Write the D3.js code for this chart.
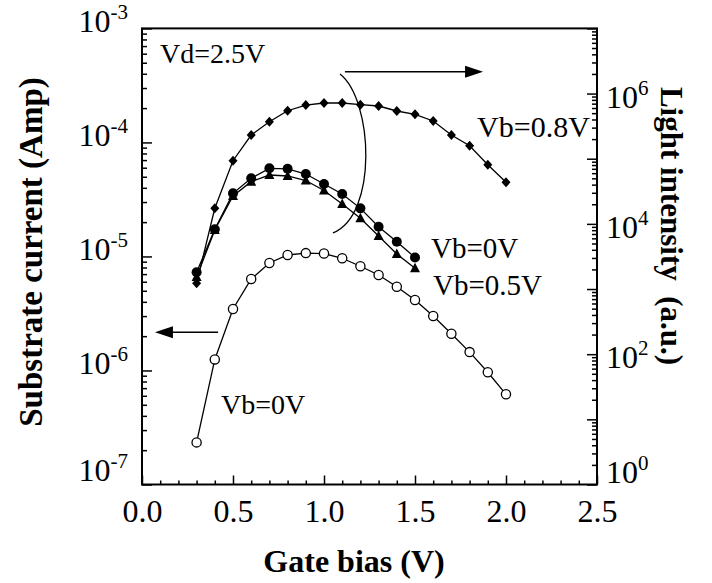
<!DOCTYPE html>
<html>
<head>
<meta charset="utf-8">
<script src="https://cdn.jsdelivr.net/npm/d3@7"></script>
<style>
  body { margin: 0; background: #fff; }
  svg { font-family: "Liberation Serif", "Times New Roman", serif; }
</style>
</head>
<body>
<div id="chart"></div>
<script>
// gate bias points (V)
const gateBiasLong = [0.3, 0.4, 0.5, 0.6, 0.7, 0.8, 0.9, 1.0, 1.1, 1.2, 1.3, 1.4, 1.5, 1.6, 1.7, 1.8, 1.9, 2.0];
const gateBiasShort = [0.3, 0.4, 0.5, 0.6, 0.7, 0.8, 0.9, 1.0, 1.1, 1.2, 1.3, 1.4, 1.5];

// substrate current (Amp), Vb=0V, open circles, left axis
const substrateVb0 = [2.34e-7, 1.25e-6, 3.46e-6, 6.34e-6, 8.77e-6, 1.03e-5, 1.07e-5, 1.06e-5, 9.64e-6,
  8.2e-6, 6.88e-6, 5.43e-6, 4.15e-6, 3.0e-6, 2.1e-6, 1.45e-6, 9.64e-7, 6.18e-7];

// light intensity (a.u.), right axis
const lightVb08 = [1224, 17330, 93100, 231000, 370000, 545000, 667000, 716000, 716000,
  674000, 644000, 540000, 480000, 379000, 231000, 158000, 80900, 43400];
const lightVb0 = [1806, 8260, 29400, 50000, 71200, 70000, 58200, 40900, 28700, 17300, 9040, 5320, 3050];
const lightVb05 = [1530, 8050, 26800, 44400, 56200, 54300, 46300, 32500, 20200, 12200, 6510, 3450, 2080];

const xMajor = [0, 0.5, 1.0, 1.5, 2.0, 2.5];
const leftExponents = [-3, -4, -5, -6, -7];
const rightExponents = [0, 2, 4, 6];

const width = 712, height = 583;
const plotLeft = 142, plotRight = 597, plotTop = 28.4, plotBottom = 484.5;

const svg = d3.select('#chart')
  .append('svg')
  .attr('width', width)
  .attr('height', height);

const x = d3.scaleLinear().domain([0, 2.5]).range([plotLeft, plotRight]);
const yLeft = d3.scaleLog().domain([1e-7, 1e-3]).range([plotBottom, plotTop]);
const yRight = d3.scaleLog().domain([1, 1e7]).range([plotBottom, plotTop]);

const isPow10 = v => Math.abs(Math.log10(v) - Math.round(Math.log10(v))) < 1e-9;

// x axis
const xMinor = d3.range(0, 2.51, 0.1).filter(v => Math.abs(v * 2 - Math.round(v * 2)) > 1e-6);
svg.append('g')
   .attr('transform', 'translate(0,' + plotBottom + ')')
   .call(d3.axisBottom(x).tickValues(xMinor).tickSize(-4).tickSizeOuter(0).tickFormat(''));
svg.append('g')
   .attr('class', 'x-major')
   .attr('transform', 'translate(0,' + plotBottom + ')')
   .call(d3.axisBottom(x).tickValues(xMajor).tickSize(-9).tickSizeOuter(0)
     .tickPadding(15).tickFormat(d3.format('.1f')));
svg.selectAll('.x-major text')
   .attr('font-size', 32)
   .attr('font-family', '"Liberation Serif", serif')
   .attr('fill', '#000');

// left axis
svg.append('g')
   .attr('transform', 'translate(' + plotLeft + ',0)')
   .call(d3.axisRight(yLeft).tickValues(yLeft.ticks().filter(v => !isPow10(v)))
     .tickSize(5).tickSizeOuter(0).tickFormat(''));
svg.append('g')
   .attr('transform', 'translate(' + plotLeft + ',0)')
   .call(d3.axisRight(yLeft).tickValues(leftExponents.map(e => Math.pow(10, e)))
     .tickSize(10).tickSizeOuter(0).tickFormat(''));

// right axis
svg.append('g')
   .attr('transform', 'translate(' + plotRight + ',0)')
   .call(d3.axisLeft(yRight).tickValues(yRight.ticks().filter(v => !isPow10(v)))
     .tickSize(5).tickSizeOuter(0).tickFormat(''));
svg.append('g')
   .attr('transform', 'translate(' + plotRight + ',0)')
   .call(d3.axisLeft(yRight).tickValues(d3.range(0, 8).map(e => Math.pow(10, e)))
     .tickSize(10).tickSizeOuter(0).tickFormat(''));

svg.selectAll('.domain').remove();
svg.selectAll('.tick line').attr('stroke', '#000').attr('stroke-width', 1.5);

// frame
svg.append('rect')
   .attr('x', plotLeft)
   .attr('y', plotTop)
   .attr('width', plotRight - plotLeft)
   .attr('height', plotBottom - plotTop)
   .attr('fill', 'none')
   .attr('stroke', '#000')
   .attr('stroke-width', 2);

// left tick labels
const leftLab = svg.selectAll('.left-lab')
  .data(leftExponents)
  .enter()
    .append('text')
    .attr('class', 'left-lab')
    .attr('x', 128)
    .attr('y', d => yLeft(Math.pow(10, d)) + (d === -7 ? -4 : 4))
    .attr('text-anchor', 'end')
    .attr('font-size', 32);
leftLab.append('tspan').text('10');
leftLab.append('tspan').attr('dy', -13).attr('font-size', 21).text(d => '-' + Math.abs(d));

// right tick labels
const rightLab = svg.selectAll('.right-lab')
  .data(rightExponents)
  .enter()
    .append('text')
    .attr('class', 'right-lab')
    .attr('x', 606)
    .attr('y', d => yRight(Math.pow(10, d)) + (d === 0 ? -2 : 14))
    .attr('font-size', 32);
rightLab.append('tspan').text('10');
rightLab.append('tspan').attr('dy', -13).attr('font-size', 21).text(d => d);

// axis titles
svg.append('text')
   .attr('transform', 'translate(42,252) rotate(-90)')
   .attr('text-anchor', 'middle')
   .attr('font-weight', 'bold')
   .attr('font-size', 33)
   .text('Substrate current (Amp)');

svg.append('text')
   .attr('transform', 'translate(661,226) rotate(90)')
   .attr('text-anchor', 'middle')
   .attr('font-weight', 'bold')
   .attr('font-size', 31)
   .attr('xml:space', 'preserve')
   .style('white-space', 'pre')
   .text('Light intensity  (a.u.)');

svg.append('text')
   .attr('x', 354)
   .attr('y', 572)
   .attr('text-anchor', 'middle')
   .attr('font-weight', 'bold')
   .attr('font-size', 32)
   .text('Gate bias (V)');

// series
const lineLeft = d3.line().x(d => x(d[0])).y(d => yLeft(d[1]));
const lineRight = d3.line().x(d => x(d[0])).y(d => yRight(d[1]));

const sub0 = gateBiasLong.map((g, i) => [g, substrateVb0[i]]);
const l08 = gateBiasLong.map((g, i) => [g, lightVb08[i]]);
const l0 = gateBiasShort.map((g, i) => [g, lightVb0[i]]);
const l05 = gateBiasShort.map((g, i) => [g, lightVb05[i]]);

[[sub0, lineLeft], [l08, lineRight], [l0, lineRight], [l05, lineRight]].forEach(s => {
  svg.append('path')
     .datum(s[0])
     .attr('d', s[1])
     .attr('fill', 'none')
     .attr('stroke', '#000')
     .attr('stroke-width', 1.3);
});

// markers
svg.selectAll('.tri')
   .data(l05)
   .enter()
     .append('path')
     .attr('class', 'tri')
     .attr('d', d => {
       const cx = x(d[0]), cy = yRight(d[1]);
       return 'M' + cx + ',' + (cy - 5.5) + 'L' + (cx + 5) + ',' + (cy + 4) + 'L' + (cx - 5) + ',' + (cy + 4) + 'Z';
     })
     .attr('fill', '#000');

svg.selectAll('.dot')
   .data(l0)
   .enter()
     .append('circle')
     .attr('class', 'dot')
     .attr('cx', d => x(d[0]))
     .attr('cy', d => yRight(d[1]))
     .attr('r', 5)
     .attr('fill', '#000');

svg.selectAll('.dia')
   .data(l08)
   .enter()
     .append('path')
     .attr('class', 'dia')
     .attr('d', d => {
       const cx = x(d[0]), cy = yRight(d[1]);
       return 'M' + cx + ',' + (cy - 5) + 'L' + (cx + 4.5) + ',' + cy + 'L' + cx + ',' + (cy + 5) + 'L' + (cx - 4.5) + ',' + cy + 'Z';
     })
     .attr('fill', '#000');

svg.selectAll('.ring')
   .data(sub0)
   .enter()
     .append('circle')
     .attr('class', 'ring')
     .attr('cx', d => x(d[0]))
     .attr('cy', d => yLeft(d[1]))
     .attr('r', 4.6)
     .attr('fill', '#fff')
     .attr('stroke', '#000')
     .attr('stroke-width', 1.3);

// annotations (positions in data units of the bottom/left axes)
const arrowHead = (tipX, tipY, dir) => {
  return 'M' + tipX + ',' + tipY +
         'L' + (tipX - dir * 18) + ',' + (tipY - 6) +
         'L' + (tipX - dir * 18) + ',' + (tipY + 6) + 'Z';
};

// right-pointing arrow
const ra = { x0: 1.115, x1: 1.874, y: 4.17e-4 };
svg.append('line')
   .attr('x1', x(ra.x0)).attr('x2', x(ra.x1) - 10)
   .attr('y1', yLeft(ra.y)).attr('y2', yLeft(ra.y))
   .attr('stroke', '#000').attr('stroke-width', 1.5);
svg.append('path').attr('d', arrowHead(x(ra.x1), yLeft(ra.y), 1)).attr('fill', '#000');

// left-pointing arrow
const la = { x0: 0.418, x1: 0.071, y: 2.16e-6 };
svg.append('line')
   .attr('x1', x(la.x0)).attr('x2', x(la.x1) + 10)
   .attr('y1', yLeft(la.y)).attr('y2', yLeft(la.y))
   .attr('stroke', '#000').attr('stroke-width', 1.5);
svg.append('path').attr('d', arrowHead(x(la.x1), yLeft(la.y), -1)).attr('fill', '#000');

// bracket curve
const br = [[1.088, 3.98e-4], [1.27, 2.35e-4], [1.297, 2.31e-5], [1.049, 1.61e-5]];
const bp = d3.path();
bp.moveTo(x(br[0][0]), yLeft(br[0][1]));
bp.bezierCurveTo(x(br[1][0]), yLeft(br[1][1]), x(br[2][0]), yLeft(br[2][1]), x(br[3][0]), yLeft(br[3][1]));
svg.append('path')
   .attr('d', bp.toString())
   .attr('fill', 'none')
   .attr('stroke', '#000')
   .attr('stroke-width', 1.3);

const notes = [
  { t: 'Vd=2.5V', gx: 0.099, v: 4.97e-4, size: 28 },
  { t: 'Vb=0.8V', gx: 1.841, v: 1.12e-4, size: 30 },
  { t: 'Vb=0V', gx: 1.588, v: 9.7e-6, size: 29 },
  { t: 'Vb=0.5V', gx: 1.599, v: 4.59e-6, size: 29 },
  { t: 'Vb=0V', gx: 0.434, v: 4.15e-7, size: 28 }
];
svg.selectAll('.note')
   .data(notes)
   .enter()
     .append('text')
     .attr('class', 'note')
     .attr('x', d => x(d.gx))
     .attr('y', d => yLeft(d.v))
     .attr('font-size', d => d.size)
     .text(d => d.t);
</script>
</body>
</html>
